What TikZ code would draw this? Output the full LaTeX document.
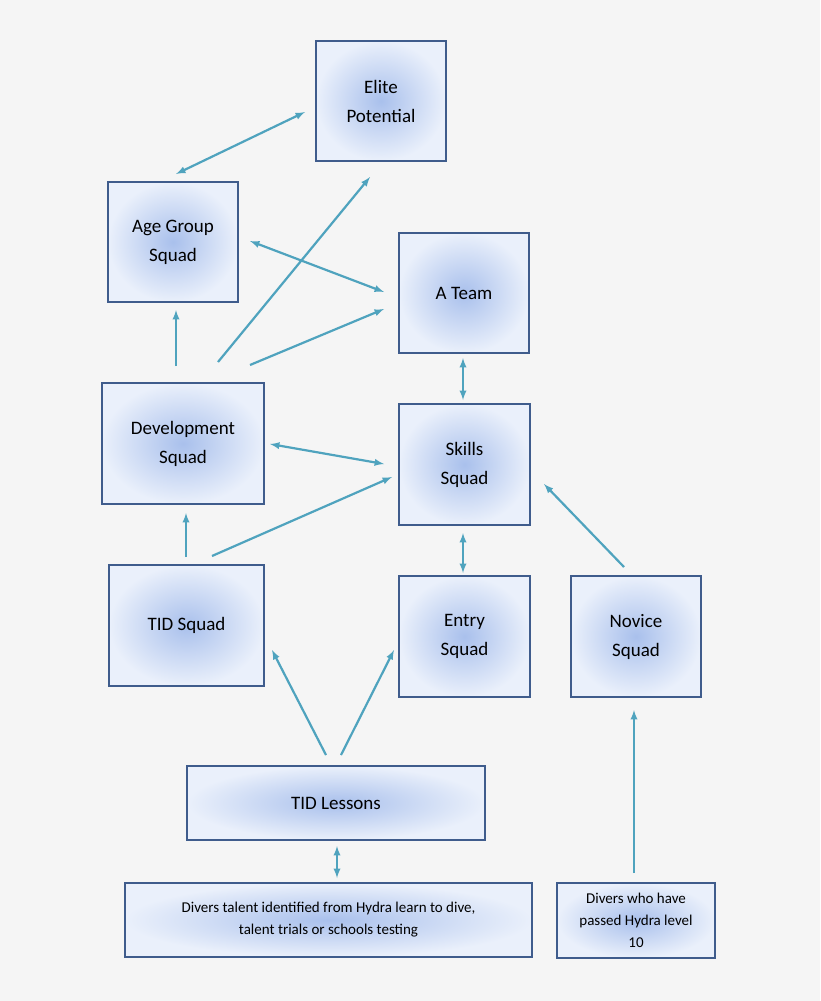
\documentclass[tikz,border=0pt]{standalone}
\usepackage{fontspec}
\setmainfont{Carlito}
\begin{document}
\begin{tikzpicture}[x=1pt,y=-1pt,
  box/.style={draw=bd,line width=1.8pt,inner color=inC,outer color=outC,align=center,font=\fontsize{19}{29}\selectfont},
  sbox/.style={box,font=\fontsize{15}{22}\selectfont},
  arr/.style={draw=ar,line width=2.2pt,-latex},
  barr/.style={draw=ar,line width=2.2pt,latex-latex}]
\definecolor{bd}{HTML}{3F5C8C}
\definecolor{inC}{HTML}{A9C0EC}
\definecolor{outC}{HTML}{EAF0FB}
\definecolor{ar}{HTML}{4FA3BE}
\definecolor{bg}{HTML}{F5F5F5}
\fill[bg] (0,0) rectangle (820,1001);
\useasboundingbox (0,0) rectangle (820,1001);
\path[box] (316,41) rectangle (446,161) node[midway] (elite) {Elite\\Potential};
\path[box] (108,182) rectangle (238,302) node[midway] (age) {Age Group\\Squad};
\path[box] (399,233) rectangle (529,353) node[midway] (ateam) {A Team};
\path[box] (102,383) rectangle (264,504) node[midway] (dev) {Development\\Squad};
\path[box] (399,404) rectangle (530,525) node[midway] (skills) {Skills\\Squad};
\path[box] (109,565) rectangle (264,686) node[midway] (tid) {TID Squad};
\path[box] (399,576) rectangle (530,697) node[midway] (entry) {Entry\\Squad};
\path[box] (571,576) rectangle (701,697) node[midway] (novice) {Novice\\Squad};
\path[box] (187,766) rectangle (485,840) node[midway] (lessons) {TID Lessons};
\path[sbox] (125,883) rectangle (532,957) node[midway] (divers) {Divers talent identified from Hydra learn to dive,\\talent trials or schools testing};
\path[sbox] (557,883) rectangle (715,958) node[midway] (passed) {Divers who have\\passed Hydra level\\10};
\foreach \n/\x/\y in {a1/305/112,a2/176/174,b1/218/362,b2/370/177,c1/250/241,c2/384/292,d1/250/365,d2/384/309,e1/176/366,e2/176/310,f1/463/358,f2/463/400,g1/270/444,g2/384/464,h1/186/557,h2/186/513,i1/212/556,i2/392/477,j1/463/533,j2/463/573,k1/624/567,k2/544/484,l1/326/755,l2/272/650,m1/341/755,m2/394/650,n1/337/846,n2/337/878,o1/634/873,o2/634/710}
  \coordinate (\n) at (\x,\y);
\draw[barr] (a1) -- (a2);
\draw[arr] (b1) -- (b2);
\draw[barr] (c1) -- (c2);
\draw[arr] (d1) -- (d2);
\draw[arr] (e1) -- (e2);
\draw[barr] (f1) -- (f2);
\draw[barr] (g1) -- (g2);
\draw[arr] (h1) -- (h2);
\draw[arr] (i1) -- (i2);
\draw[barr] (j1) -- (j2);
\draw[arr] (k1) -- (k2);
\draw[arr] (l1) -- (l2);
\draw[arr] (m1) -- (m2);
\draw[barr] (n1) -- (n2);
\draw[arr] (o1) -- (o2);
\end{tikzpicture}
\end{document}
